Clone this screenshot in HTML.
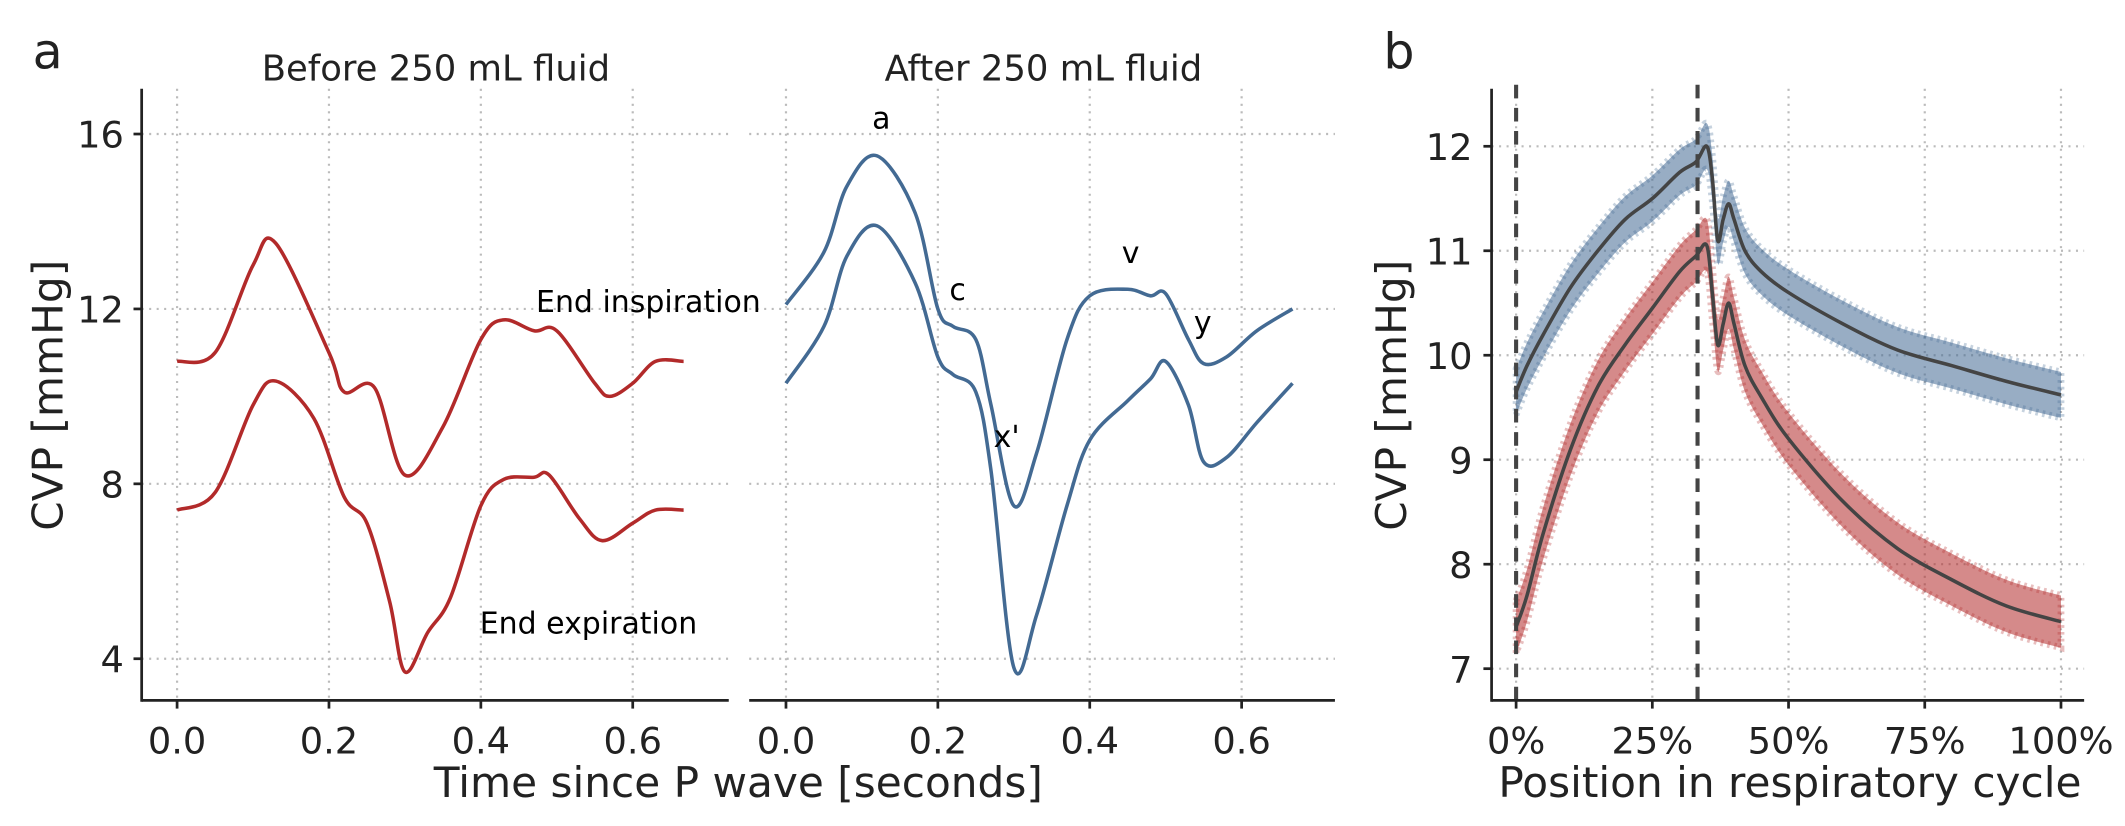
<!DOCTYPE html>
<html><head><meta charset="utf-8">
<style>
html,body{margin:0;padding:0;background:#fff;}
svg{display:block;font-family:"DejaVu Sans","Liberation Sans",sans-serif;}
</style></head>
<body>
<svg id="chart" width="2125" height="826" viewBox="0 0 1560 606" xmlns="http://www.w3.org/2000/svg">
<g id="grid"></g>
<g id="marks"></g>
<g id="axes"></g>
</svg>
<script>
// ---------- Panel a data ----------
const beforeTimes = [0,0.05,0.1,0.13,0.2,0.22,0.26,0.3,0.35,0.4,0.43,0.47,0.5,0.55,0.57,0.6,0.63,0.667];
const beforeInsp  = [10.8,11.0,13.0,13.5,11.0,10.1,10.2,8.2,9.3,11.3,11.75,11.5,11.5,10.3,10.0,10.3,10.8,10.8];
const beforeTimes2 = [0,0.05,0.1,0.13,0.18,0.22,0.25,0.28,0.3,0.33,0.36,0.4,0.43,0.47,0.49,0.53,0.56,0.6,0.63,0.667];
const beforeExp   = [7.4,7.8,9.8,10.35,9.5,7.7,7.1,5.3,3.7,4.6,5.4,7.5,8.1,8.15,8.2,7.2,6.7,7.1,7.4,7.4];
const afterTimes  = [0,0.05,0.08,0.12,0.17,0.2,0.22,0.25,0.27,0.3,0.33,0.37,0.4,0.45,0.48,0.5,0.53,0.55,0.58,0.62,0.667];
const afterInsp   = [12.1,13.3,14.8,15.5,14.2,12.0,11.6,11.3,9.8,7.5,8.7,11.3,12.3,12.45,12.3,12.35,11.3,10.75,10.9,11.5,12.0];
const afterExp    = [10.3,11.6,13.2,13.9,12.6,10.9,10.5,10.1,8.3,3.8,5.0,7.5,9.0,9.9,10.4,10.8,9.8,8.5,8.6,9.4,10.3];
const aXTicks = [0,0.2,0.4,0.6];
const aXLabels = ["0.0","0.2","0.4","0.6"];
const aYTicks = [4,8,12,16];
// ---------- Panel b data ----------
const cyclePct = [0,2,5,10,15,20,25,30,33,35,36,37,38,39,40,42,45,50,60,70,80,90,100];
const blueMean = [9.65,9.9,10.2,10.65,11.0,11.3,11.5,11.75,11.85,12.0,11.7,11.1,11.3,11.45,11.3,11.0,10.8,10.6,10.3,10.05,9.9,9.75,9.62];
const redMean  = [7.4,7.7,8.3,9.1,9.7,10.1,10.45,10.8,10.95,11.05,10.6,10.1,10.3,10.5,10.3,9.9,9.6,9.2,8.6,8.15,7.85,7.6,7.45];
const bXTicks = [0,25,50,75,100];
const bXLabels = ["0%","25%","50%","75%","100%"];
const bYTicks = [7,8,9,10,11,12];
const dashedPct = [0,33.3];

const NS="http://www.w3.org/2000/svg";
function mk(tag,attrs,parent,txt){const e=document.createElementNS(NS,tag);for(const k in attrs)e.setAttribute(k,attrs[k]);if(txt!==undefined)e.textContent=txt;parent.appendChild(e);return e;}
const G=document.getElementById('grid'),M=document.getElementById('marks'),A=document.getElementById('axes'),S=document.getElementById('chart');

const yA = v => 355 - (v-8)*32.1;
const xL = t => 130 + t*557.5;
const xR = t => 577 + t*557.5;
const xB = p => 1113 + p*4;
const yB = v => 414 - (v-8)*76.7;

function smooth(pts){
  let d=`M${pts[0][0]},${pts[0][1]}`;
  for(let i=0;i<pts.length-1;i++){
    const p0=pts[Math.max(0,i-1)],p1=pts[i],p2=pts[i+1],p3=pts[Math.min(pts.length-1,i+2)];
    const c1=[p1[0]+(p2[0]-p0[0])/6,p1[1]+(p2[1]-p0[1])/6];
    const c2=[p2[0]-(p3[0]-p1[0])/6,p2[1]-(p3[1]-p1[1])/6];
    d+=` C${c1[0]},${c1[1]} ${c2[0]},${c2[1]} ${p2[0]},${p2[1]}`;
  }
  return d;
}
const gridStyle={stroke:"#bbb","stroke-width":1.6,"stroke-dasharray":"1.5,4"};

[[xL,104,535],[xR,550,980]].forEach(([xs,x0,x1])=>{
  aXTicks.forEach(t=>{const l=mk('line',Object.assign({x1:xs(t),x2:xs(t),y1:65,y2:514},gridStyle),G);
    });
  aYTicks.forEach(v=>{const l=mk('line',Object.assign({x1:x0,x2:x1,y1:yA(v),y2:yA(v)},gridStyle),G);
    });
});
bXTicks.forEach(p=>{const l=mk('line',Object.assign({x1:xB(p),x2:xB(p),y1:65,y2:514},gridStyle),G);
  });
bYTicks.forEach(v=>{const l=mk('line',Object.assign({x1:1095,x2:1530,y1:yB(v),y2:yB(v)},gridStyle),G);
  });

function curve(ts,vs,xs,color,name){
  const p=mk('path',{d:smooth(ts.map((t,i)=>[xs(t),yA(vs[i])])),fill:"none",stroke:color,"stroke-width":2.6},M);
  
}
const RED="#b22a2a",BLUE="#436a93";
curve(beforeTimes,beforeInsp,xL,RED,'before-end-inspiration-line');
curve(beforeTimes2,beforeExp,xL,RED,'before-end-expiration-line');
curve(afterTimes,afterInsp,xR,BLUE,'after-end-inspiration-line');
curve(afterTimes,afterExp,xR,BLUE,'after-end-expiration-line');

function band(vals,color,w,name){
  const up=cyclePct.map((p,i)=>[xB(p),yB(vals[i]+w)]);
  const lo=cyclePct.map((p,i)=>[xB(p),yB(vals[i]-w)]).reverse();
  const d=smooth(up)+" L"+smooth(lo).slice(1)+" Z";
  const b=mk('path',{d:d,fill:color,"fill-opacity":0.55,stroke:color,"stroke-opacity":0.3,"stroke-width":5,"stroke-dasharray":"2,3"},M);
  
}
band(blueMean,BLUE,0.22,'end-inspiration-points');
band(redMean,RED,0.25,'end-expiration-points');
dashedPct.forEach(p=>{const l=mk('line',{x1:xB(p),x2:xB(p),y1:62,y2:514,stroke:"#444","stroke-width":3,"stroke-dasharray":"10,7"},M);
  });
[[blueMean,'end-inspiration-mean-line'],[redMean,'end-expiration-mean-line']].forEach(([vals,n])=>{
  const p=mk('path',{d:smooth(cyclePct.map((c,i)=>[xB(c),yB(vals[i])])),fill:"none",stroke:"#444","stroke-width":2.6},M);
  
});

function axLine(x1,y1,x2,y2,n){const l=mk('line',{x1,y1,x2,y2,stroke:"#222","stroke-width":2},A);
  }
axLine(104,65,104,515,'a-y-axis');axLine(104,514,535,514,'a-left-x-axis');axLine(550,514,980,514,'a-right-x-axis');
axLine(1095,65,1095,515,'b-y-axis');axLine(1095,514,1530,514,'b-x-axis');
function txt(x,y,s,size,anchor,name,extra){const t=mk('text',Object.assign({x,y,"font-size":size,"text-anchor":anchor||"middle",fill:"#222"},extra||{}),A,s);
  return t;}
[[xL],[xR]].forEach(([xs])=>aXTicks.forEach((t,i)=>{axLine(xs(t),514,xs(t),520,'x-tick');txt(xs(t),553,aXLabels[i],27,"middle",'x-tick-label');}));
aYTicks.forEach(v=>{axLine(98,yA(v),104,yA(v),'y-tick');txt(91,yA(v)+10,String(v),27,"end",'y-tick-label');});
bXTicks.forEach((p,i)=>{axLine(xB(p),514,xB(p),520,'x-tick');txt(xB(p),553,bXLabels[i],27,"middle",'x-tick-label');});
bYTicks.forEach(v=>{axLine(1089,yB(v),1095,yB(v),'y-tick');txt(1081,yB(v)+10,String(v),27,"end",'y-tick-label');});

txt(320,59,"Before 250 mL fluid",26,"middle",'before-panel-title');
txt(766,59,"After 250 mL fluid",26,"middle",'after-panel-title');
txt(542,585,"Time since P wave [seconds]",31,"middle",'a-x-axis-title');
txt(1314,585,"Position in respiratory cycle",31,"middle",'b-x-axis-title');
txt(46,290,"CVP [mmHg]",31,"middle",'a-y-axis-title',{transform:"rotate(-90 46 290)"});
txt(1032,290,"CVP [mmHg]",31,"middle",'b-y-axis-title',{transform:"rotate(-90 1032 290)"});
txt(35,50,"a",36,"middle",'panel-a-label');
txt(1027,50,"b",36,"middle",'panel-b-label');
txt(476,229,"End inspiration",22,"middle",'end-inspiration-label',{fill:"#000"});
txt(432,465,"End expiration",22,"middle",'end-expiration-label',{fill:"#000"});
txt(647,94,"a",22,"middle",'a-wave-label',{fill:"#000"});
txt(703,220,"c",22,"middle",'c-wave-label',{fill:"#000"});
txt(739,328,"x'",22,"middle",'x-descent-label',{fill:"#000"});
txt(830,193,"v",22,"middle",'v-wave-label',{fill:"#000"});
txt(883,244,"y",22,"middle",'y-descent-label',{fill:"#000"});
</script>
</body></html>
